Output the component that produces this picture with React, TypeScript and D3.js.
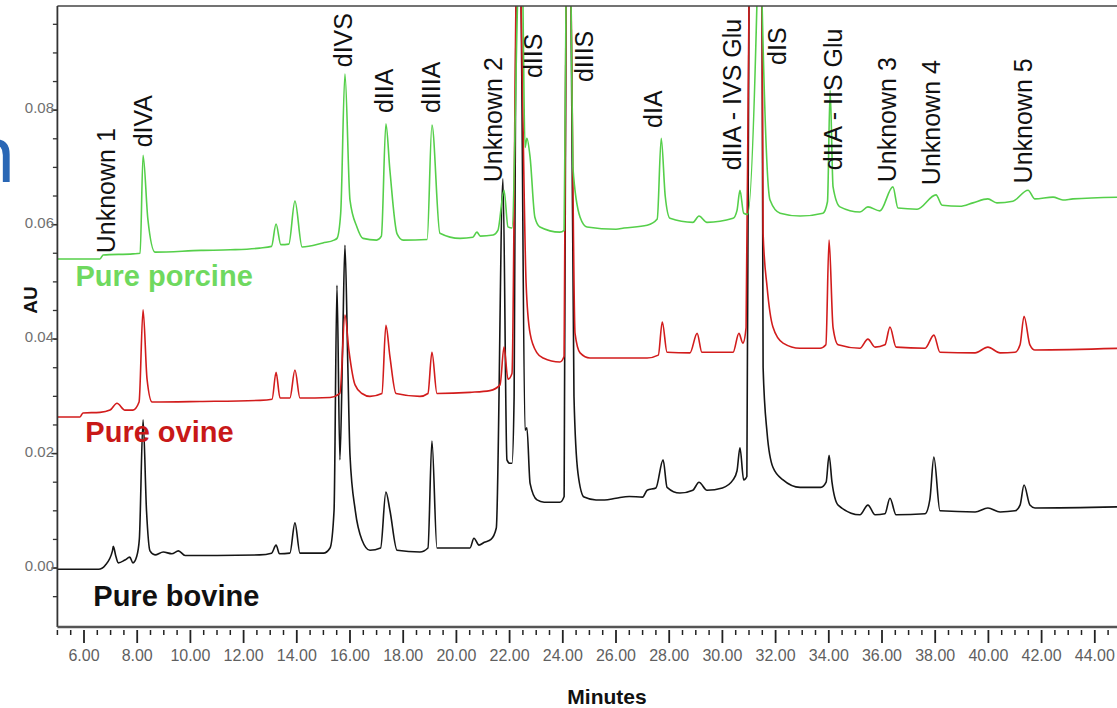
import React from "react";
import * as d3 from "d3";

// ---- data (time in minutes, absorbance in AU) ----
const porcineT = [5.0, 6.6, 6.72, 7.84, 8.11, 8.22, 8.4, 8.67, 10.4, 11.5, 12.6, 13.05, 13.22, 13.4, 13.7, 13.93, 14.2, 14.98, 15.4, 15.51, 15.65, 15.81, 16.0, 16.26, 16.49, 17.0, 17.18, 17.35, 17.5, 17.77, 18.0, 18.9, 19.08, 19.38, 20.14, 20.62, 20.77, 20.9, 21.38, 21.56, 21.79, 21.94, 22.09, 22.3, 22.43, 22.5, 22.58, 22.65, 22.77, 22.95, 23.14, 23.89, 24.05, 24.12, 24.21, 24.31, 24.38, 24.65, 24.91, 26.0, 26.3, 27.17, 27.55, 27.7, 27.85, 28.03, 28.89, 29.12, 29.42, 30.4, 30.55, 30.66, 30.8, 30.95, 31.3, 31.4, 31.49, 31.79, 32.17, 32.92, 33.78, 33.95, 34.05, 34.16, 34.42, 35.17, 35.47, 35.92, 36.41, 36.6, 37.32, 38.03, 38.26, 38.93, 39.42, 39.98, 40.32, 40.92, 41.49, 41.75, 42.43, 42.8, 43.18, 45.0];
const porcineAU = [0.054, 0.054, 0.0547, 0.0549, 0.055, 0.0721, 0.061, 0.0552, 0.0555, 0.0556, 0.0559, 0.0562, 0.0601, 0.0565, 0.0566, 0.0641, 0.0561, 0.0568, 0.0573, 0.0576, 0.062, 0.0863, 0.0643, 0.0596, 0.0576, 0.0573, 0.058, 0.0776, 0.0695, 0.0584, 0.0573, 0.0574, 0.0774, 0.0585, 0.0576, 0.0578, 0.0587, 0.058, 0.0582, 0.059, 0.066, 0.0596, 0.0594, 0.099, 0.12, 0.099, 0.0735, 0.0751, 0.0718, 0.0613, 0.0596, 0.0587, 0.059, 0.099, 0.12, 0.099, 0.07, 0.0613, 0.0596, 0.0592, 0.0594, 0.0599, 0.061, 0.0751, 0.065, 0.0611, 0.0604, 0.0615, 0.0604, 0.0611, 0.0625, 0.066, 0.062, 0.0618, 0.099, 0.12, 0.099, 0.0643, 0.062, 0.0615, 0.062, 0.064, 0.0835, 0.0666, 0.0631, 0.0622, 0.0631, 0.0624, 0.0666, 0.0629, 0.0627, 0.0652, 0.0634, 0.0632, 0.0638, 0.0645, 0.0638, 0.0641, 0.066, 0.0645, 0.0648, 0.0643, 0.0645, 0.0648];

const ovineT = [5.0, 5.85, 5.96, 6.6, 6.98, 7.24, 7.54, 7.84, 8.07, 8.22, 8.37, 8.56, 10.36, 12.62, 13.07, 13.22, 13.37, 13.74, 13.93, 14.12, 15.25, 15.62, 15.81, 15.96, 16.19, 16.45, 16.75, 17.2, 17.35, 17.5, 17.73, 18.63, 18.93, 19.08, 19.27, 20.51, 21.26, 21.64, 21.79, 21.94, 22.09, 22.24, 22.33, 22.43, 22.62, 22.77, 23.03, 23.26, 23.89, 24.05, 24.12, 24.21, 24.31, 24.46, 24.65, 25.02, 27.17, 27.59, 27.74, 27.92, 28.78, 29.05, 29.23, 30.4, 30.62, 30.77, 30.89, 31.0, 31.24, 31.49, 31.53, 31.68, 31.9, 32.28, 32.92, 33.67, 33.89, 34.01, 34.16, 34.35, 35.17, 35.47, 35.74, 36.11, 36.3, 36.53, 37.62, 37.95, 38.18, 39.5, 39.98, 40.44, 41.0, 41.19, 41.34, 41.56, 41.75, 45.0];
const ovineAU = [0.0264, 0.0264, 0.0271, 0.0272, 0.0276, 0.0288, 0.0276, 0.0276, 0.029, 0.0451, 0.033, 0.029, 0.0291, 0.0293, 0.0295, 0.0342, 0.0297, 0.0297, 0.0346, 0.0297, 0.0298, 0.0305, 0.0442, 0.038, 0.032, 0.0305, 0.03, 0.0305, 0.0424, 0.037, 0.0305, 0.03, 0.0305, 0.0377, 0.0305, 0.0307, 0.031, 0.032, 0.0386, 0.033, 0.034, 0.099, 0.12, 0.099, 0.0498, 0.041, 0.0376, 0.0367, 0.036, 0.037, 0.099, 0.12, 0.099, 0.041, 0.0376, 0.0367, 0.0367, 0.0372, 0.043, 0.0377, 0.0376, 0.041, 0.0377, 0.0377, 0.041, 0.0393, 0.042, 0.099, 0.12, 0.099, 0.0585, 0.0491, 0.0421, 0.0393, 0.0384, 0.0384, 0.039, 0.0573, 0.042, 0.039, 0.0384, 0.04, 0.0386, 0.039, 0.0421, 0.0386, 0.0384, 0.0407, 0.0377, 0.0376, 0.0386, 0.0376, 0.0377, 0.039, 0.044, 0.039, 0.0381, 0.0384];

const bovineT = [5.0, 6.55, 6.8, 7.07, 7.1, 7.2, 7.29, 7.54, 7.72, 7.84, 7.98, 8.08, 8.22, 8.35, 8.48, 8.67, 8.98, 9.3, 9.55, 9.8, 11.0, 12.6, 13.05, 13.22, 13.35, 13.74, 13.93, 14.12, 15.0, 15.25, 15.4, 15.51, 15.62, 15.72, 15.81, 15.92, 16.0, 16.2, 16.45, 16.75, 17.15, 17.35, 17.5, 17.77, 18.63, 18.93, 19.08, 19.27, 20.14, 20.51, 20.66, 20.85, 21.05, 21.3, 21.5, 21.75, 21.9, 22.01, 22.09, 22.17, 22.24, 22.33, 22.43, 22.58, 22.65, 22.77, 23.03, 23.3, 23.89, 24.05, 24.12, 24.21, 24.31, 24.42, 24.57, 24.8, 25.25, 25.57, 26.0, 26.5, 27.0, 27.17, 27.5, 27.77, 27.92, 28.4, 28.89, 29.12, 29.42, 30.0, 30.4, 30.55, 30.66, 30.8, 30.92, 31.0, 31.24, 31.49, 31.53, 31.68, 31.9, 32.28, 32.92, 33.7, 33.9, 34.01, 34.12, 34.35, 35.17, 35.47, 35.74, 36.11, 36.3, 36.53, 37.62, 37.8, 37.95, 38.18, 39.5, 39.98, 40.44, 41.0, 41.19, 41.34, 41.56, 41.75, 45.0];
const bovineAU = [-0.0002, -0.0002, 0.0005, 0.003, 0.0038, 0.002, 0.0009, 0.0014, 0.0019, 0.0009, 0.002, 0.005, 0.0259, 0.01, 0.003, 0.0023, 0.0028, 0.0025, 0.003, 0.0022, 0.0022, 0.0023, 0.0026, 0.004, 0.0025, 0.0026, 0.0079, 0.0026, 0.0026, 0.0035, 0.01, 0.0494, 0.0189, 0.038, 0.0564, 0.035, 0.0197, 0.01, 0.0049, 0.0031, 0.0035, 0.0133, 0.0101, 0.0031, 0.0028, 0.0035, 0.0222, 0.0035, 0.0035, 0.0035, 0.0052, 0.004, 0.0045, 0.005, 0.007, 0.068, 0.0189, 0.0183, 0.0183, 0.03, 0.099, 0.12, 0.099, 0.0241, 0.0245, 0.0148, 0.0119, 0.0115, 0.0115, 0.0125, 0.099, 0.12, 0.099, 0.03, 0.0166, 0.0124, 0.0119, 0.0119, 0.0122, 0.0125, 0.0124, 0.0136, 0.014, 0.0189, 0.0141, 0.0131, 0.0136, 0.015, 0.0136, 0.014, 0.0154, 0.017, 0.021, 0.0154, 0.016, 0.099, 0.12, 0.099, 0.0351, 0.0236, 0.0176, 0.0154, 0.0141, 0.0141, 0.015, 0.0197, 0.015, 0.011, 0.0093, 0.011, 0.0093, 0.0095, 0.0122, 0.0093, 0.0095, 0.012, 0.0194, 0.01, 0.0098, 0.0105, 0.0098, 0.01, 0.011, 0.0145, 0.011, 0.0105, 0.0107];

const peakNames = ["Unknown 1", "dIVA", "dIVS", "dIIA", "dIIIA", "Unknown 2", "dIIS", "dIIIS", "dIA", "dIIA - IVS Glu", "dIS", "dIIA - IIS Glu", "Unknown 3", "Unknown 4", "Unknown 5"];
const peakLabelT = [6.83, 8.22, 15.74, 17.28, 19.05, 21.38, 22.88, 24.8, 27.39, 30.36, 32.05, 34.16, 36.19, 37.84, 41.3];
const peakLabelAU = [0.055, 0.0735, 0.0875, 0.0795, 0.0795, 0.0674, 0.0856, 0.0849, 0.0769, 0.0695, 0.0879, 0.0695, 0.0674, 0.0669, 0.0672];

const seriesNames = ["Pure porcine", "Pure ovine", "Pure bovine"];
const seriesLabelT = [5.68, 6.05, 6.35];
const seriesLabelAU = [0.0492, 0.022, -0.0066];

const xMajorTicks = [6, 8, 10, 12, 14, 16, 18, 20, 22, 24, 26, 28, 30, 32, 34, 36, 38, 40, 42, 44];
const yMajorTicks = [0, 0.02, 0.04, 0.06, 0.08];

// ---- layout ----
const W = 1117;
const H = 708;
const LEFT = 57.4;
const TOP = 6;
const BOTTOM = 627;
const FONT = "'Liberation Sans', Arial, Helvetica, sans-serif";

const x = d3.scaleLinear().domain([5, 45]).range([LEFT, LEFT + 40 * 26.6]);
const y = d3.scaleLinear().domain([-0.0103, 0.0982]).range([BOTTOM, TOP]);

const line = d3
  .line<[number, number]>()
  .x((d) => x(d[0]))
  .y((d) => y(d[1]))
  .curve(d3.curveMonotoneX);

const zip = (t: number[], v: number[]) => t.map((tt, i) => [tt, v[i]] as [number, number]);

const traces = [
  { data: zip(bovineT, bovineAU), color: "#151515" },
  { data: zip(ovineT, ovineAU), color: "#d21c1c" },
  { data: zip(porcineT, porcineAU), color: "#55cf4a" },
];
const seriesColors = ["#6fd95f", "#c81818", "#111111"];

const xMinor = d3.range(5, 45, 0.5);
const yMinor = d3.range(-0.005, 0.0951, 0.005);

export default function App() {
  return (
    <svg
      width={W}
      height={H}
      style={{ position: "absolute", left: 0, top: 0, background: "#fff" }}
      fontFamily={FONT}
    >
      <rect x={0} y={0} width={W} height={H} fill="#ffffff" />
      <defs>
        <clipPath id="plotClip">
          <rect x={LEFT} y={TOP} width={W - LEFT} height={BOTTOM - TOP} />
        </clipPath>
      </defs>

      {/* partial blue letter at the left edge */}
      <text x={16} y={182} fontSize={78} fill="#2a67b5" textAnchor="end" fontFamily="'Noto Sans', 'Open Sans', sans-serif">
        n
      </text>

      {/* traces */}
      <g clipPath="url(#plotClip)">
        {traces.map((tr, i) => (
          <path key={i} d={line(tr.data) || ""} fill="none" stroke={tr.color} strokeWidth={1.6} strokeLinejoin="round" />
        ))}
      </g>

      {/* frame */}
      <line x1={LEFT} x2={W} y1={TOP} y2={TOP} stroke="#444" strokeWidth={1.6} />
      <line x1={LEFT} x2={LEFT} y1={TOP} y2={BOTTOM} stroke="#333" strokeWidth={1.8} />
      <line x1={LEFT} x2={W} y1={BOTTOM} y2={BOTTOM} stroke="#555" strokeWidth={2.4} />

      {/* x ticks */}
      {xMinor.map((t) => {
        const major = Math.abs(t % 2) < 1e-6;
        return (
          <line key={t} x1={x(t)} x2={x(t)} y1={630} y2={major ? 643 : 635} stroke="#222" strokeWidth={major ? 1.8 : 1.5} />
        );
      })}
      {xMajorTicks.map((t) => (
        <text key={t} x={x(t)} y={661} fontSize={16} fill="#5f5f5f" textAnchor="middle">
          {t.toFixed(2)}
        </text>
      ))}

      {/* y ticks */}
      {yMinor.map((v) => (
        <line key={v} x1={LEFT - 4.5} x2={LEFT} y1={y(v)} y2={y(v)} stroke="#333" strokeWidth={1.3} />
      ))}
      {yMajorTicks.map((v) => (
        <g key={v}>
          <line x1={LEFT - 6} x2={LEFT} y1={y(v)} y2={y(v)} stroke="#333" strokeWidth={1.4} />
          <text x={54} y={y(v) + 3} fontSize={15} fill="#707070" textAnchor="end">
            {v.toFixed(2)}
          </text>
        </g>
      ))}

      {/* axis titles */}
      <text x={607} y={704} fontSize={21} fontWeight="bold" fill="#111" textAnchor="middle">
        Minutes
      </text>
      <text transform="translate(30,300) rotate(-90)" fontSize={19} fontWeight="bold" fill="#111" textAnchor="middle" dy="0.35em">
        AU
      </text>

      {/* peak labels */}
      {peakNames.map((name, i) => (
        <text
          key={name}
          transform={`translate(${x(peakLabelT[i])},${y(peakLabelAU[i])}) rotate(-90)`}
          fontSize={25}
          fill="#111"
          dy="0.36em"
        >
          {name}
        </text>
      ))}

      {/* series labels */}
      {seriesNames.map((name, i) => (
        <text key={name} x={x(seriesLabelT[i])} y={y(seriesLabelAU[i])} fontSize={29} fontWeight="bold" fill={seriesColors[i]}>
          {name}
        </text>
      ))}
    </svg>
  );
}
